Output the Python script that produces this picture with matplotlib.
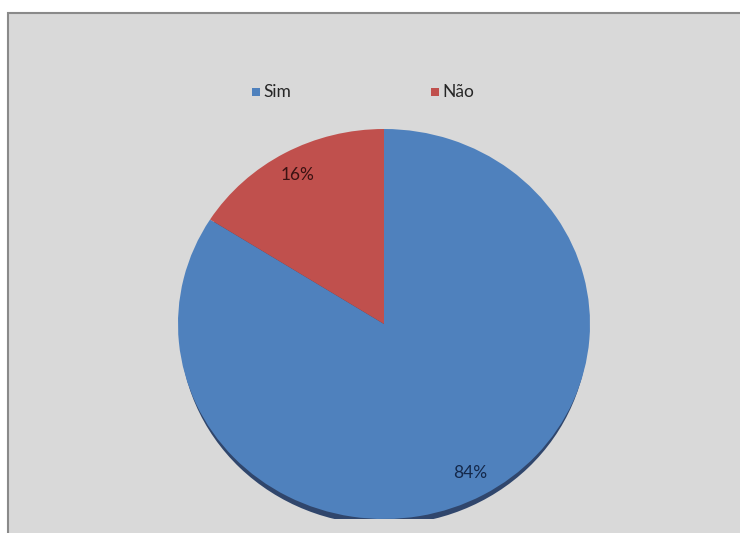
import matplotlib.pyplot as plt
from matplotlib.patches import Rectangle, Ellipse

# Dados
categorias = ['Sim', 'Não']
valores = [84, 16]
cores = ['#4F81BD', '#C0504D']
cores_texto = ['#14284a', '#3a1212']

plt.rcParams['font.family'] = ['Lato', 'DejaVu Sans']

W, H = 740, 533
fig = plt.figure(figsize=(W / 100, H / 100), dpi=100)
fig.patch.set_facecolor('white')

# area do grafico (fundo cinza com borda)
bg = fig.add_axes([0, 0, 1, 1])
bg.set_xlim(0, W)
bg.set_ylim(H, 0)
bg.axis('off')
bg.add_patch(Rectangle((8, 12.5), W, H, facecolor='#d9d9d9',
                       edgecolor='#8a8a8a', linewidth=1.5))

# pizza: centro (384, 324), raios 206 x 195 px
cx, cy, rx, ry = 384, 324, 206, 195
ax = fig.add_axes([(cx - rx) / W, 1 - (cy + ry) / H, 2 * rx / W, 2 * ry / H])
ax.axis('off')

# sombra sob a pizza
ax.add_patch(Ellipse((0.0, -0.03), 1.98, 2.0, facecolor='#1d3660',
                     edgecolor='none', alpha=0.9, zorder=0))

wedges, _, autotexts = ax.pie(valores, colors=cores, startangle=90,
                              counterclock=False, radius=1.0,
                              autopct='%1.0f%%', pctdistance=0.87,
                              wedgeprops=dict(edgecolor='none'),
                              textprops=dict(fontsize=12.5))
for w in wedges:
    w.set_zorder(1)
for t, c in zip(autotexts, cores_texto):
    t.set_color(c)
    t.set_zorder(2)
ax.set_xlim(-1, 1)
ax.set_ylim(-1, 1)
ax.set_aspect('auto')

# legenda
leg_x = [252, 431]
for x, nome, cor in zip(leg_x, categorias, cores):
    bg.add_patch(Rectangle((x, 88), 8, 8, facecolor=cor, edgecolor='none'))
    bg.text(x + 11, 92, nome, fontsize=12.5, color='#262626',
            va='center', ha='left')

fig.savefig('out.png', dpi=100, facecolor='white')
